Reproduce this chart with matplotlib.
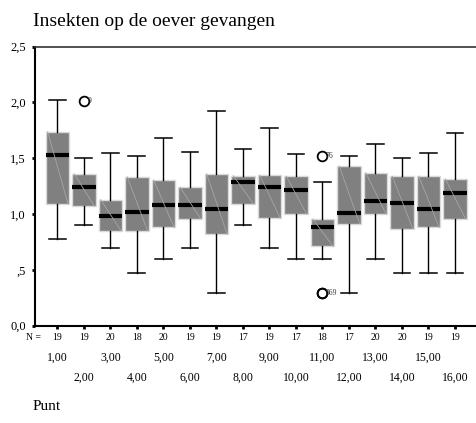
import matplotlib
matplotlib.use("Agg")
import matplotlib.pyplot as plt

# ---- data ----
categories = ["1,00", "2,00", "3,00", "4,00", "5,00", "6,00", "7,00", "8,00",
              "9,00", "10,00", "11,00", "12,00", "13,00", "14,00", "15,00", "16,00"]
n_counts = [19, 19, 20, 18, 20, 19, 19, 17, 19, 17, 18, 17, 20, 20, 19, 19]
whislo = [0.78, 0.905, 0.70, 0.47, 0.60, 0.70, 0.29, 0.905, 0.70, 0.60, 0.60, 0.29, 0.60, 0.47, 0.47, 0.47]
q1 = [1.09, 1.07, 0.85, 0.85, 0.88, 0.96, 0.82, 1.09, 0.965, 1.00, 0.71, 0.915, 1.00, 0.87, 0.88, 0.955]
med = [1.53, 1.24, 0.98, 1.02, 1.085, 1.085, 1.05, 1.29, 1.24, 1.216, 0.88, 1.01, 1.12, 1.10, 1.05, 1.19]
q3 = [1.74, 1.36, 1.13, 1.335, 1.305, 1.24, 1.36, 1.345, 1.35, 1.34, 0.956, 1.43, 1.37, 1.34, 1.34, 1.315]
whishi = [2.02, 1.50, 1.55, 1.52, 1.68, 1.56, 1.92, 1.585, 1.77, 1.54, 1.29, 1.52, 1.63, 1.50, 1.55, 1.73]
fliers = [[], [2.01], [], [], [], [], [], [], [], [], [1.52, 0.29, 0.29], [], [], [], [], []]
flier_labels = {1: ["9"], 10: ["76", "869", ""]}
yticks = [0.0, 0.5, 1.0, 1.5, 2.0, 2.5]
ytick_labels = ["0,0", ",5", "1,0", "1,5", "2,0", "2,5"]
title = "Insekten op de oever gevangen"
xlabel = "Punt"

serif = "Liberation Serif"
W, H = 476, 423
fig = plt.figure(figsize=(W / 100, H / 100), dpi=100)
ax_l, ax_t, ax_b, ax_r = 35, 46.7, 325.7, 478
ax = fig.add_axes([ax_l / W, 1 - ax_b / H, (ax_r - ax_l) / W, (ax_b - ax_t) / H])

positions = list(range(1, len(categories) + 1))
stats = []
for i in range(len(categories)):
    stats.append(dict(whislo=whislo[i], q1=q1[i], med=med[i], q3=q3[i],
                      whishi=whishi[i], fliers=fliers[i]))

box_w = 0.89
ax.bxp(stats, positions=positions, widths=box_w, capwidths=0.63,
       patch_artist=True, showfliers=True,
       boxprops=dict(facecolor="#808080", edgecolor="#dadada", linewidth=1.0),
       medianprops=dict(color="black", linewidth=3.0, solid_capstyle="butt"),
       whiskerprops=dict(color="black", linewidth=1.0),
       capprops=dict(color="black", linewidth=1.1),
       flierprops=dict(marker="o", markerfacecolor="none", markeredgecolor="black",
                       markersize=7, markeredgewidth=1.3))

# faint diagonal line across each box
for p, lo, hi in zip(positions, q1, q3):
    ax.plot([p - box_w / 2 + 0.08, p + box_w / 2 - 0.04], [hi, lo],
            color="#a6a6a6", linewidth=0.6, zorder=3)

# flier labels
for idx, labs in flier_labels.items():
    for val, lab in zip(fliers[idx], labs):
        if lab:
            ax.annotate(lab, xy=(positions[idx], val), xytext=(2.5, 0),
                        textcoords="offset points", va="center", ha="left",
                        fontsize=5.5, family=serif, color="#333333")

ax.set_xlim(1 - (57.3 - ax_l) / 26.5, 16 + (ax_r - 455) / 26.5)
ax.set_ylim(0, 2.5)
ax.set_yticks(yticks)
ax.set_yticklabels(ytick_labels, family=serif, fontsize=9)
ax.set_xticks(positions)
ax.set_xticklabels([])
ax.tick_params(axis="both", direction="out", length=2.5, width=2, color="black")
ax.tick_params(axis="y", pad=4.0)

for s in ["left", "bottom"]:
    ax.spines[s].set_linewidth(1.5)
    ax.spines[s].set_color("black")
ax.spines["top"].set_linewidth(1.2)
ax.spines["top"].set_color("#333333")
ax.spines["right"].set_visible(False)

# N row and category labels
px2pt = 72 / 100
ax.annotate("N =", xy=(0, 0), xycoords="axes fraction",
            xytext=(-1, -(337 - ax_b) * px2pt), textcoords="offset points",
            ha="center", va="center", fontsize=7, family=serif)
for p, n in zip(positions, n_counts):
    ax.annotate(str(n), xy=(p, 0), xycoords=("data", "axes fraction"),
                xytext=(0, -(337 - ax_b) * px2pt), textcoords="offset points",
                ha="center", va="center", fontsize=7, family=serif)
for i, (p, c) in enumerate(zip(positions, categories)):
    yoff = (358 - ax_b) if i % 2 == 0 else (377.5 - ax_b)
    ax.annotate(c, xy=(p, 0), xycoords=("data", "axes fraction"),
                xytext=(0, -yoff * px2pt), textcoords="offset points",
                ha="center", va="center", fontsize=8.5, family=serif)

fig.text(33 / W, 1 - 26 / H, title, ha="left", va="baseline",
         fontsize=14, family=serif)
fig.text(33 / W, 1 - 406 / H, xlabel, ha="left", va="center",
         fontsize=11, family=serif)

fig.savefig("out.png", dpi=100)
